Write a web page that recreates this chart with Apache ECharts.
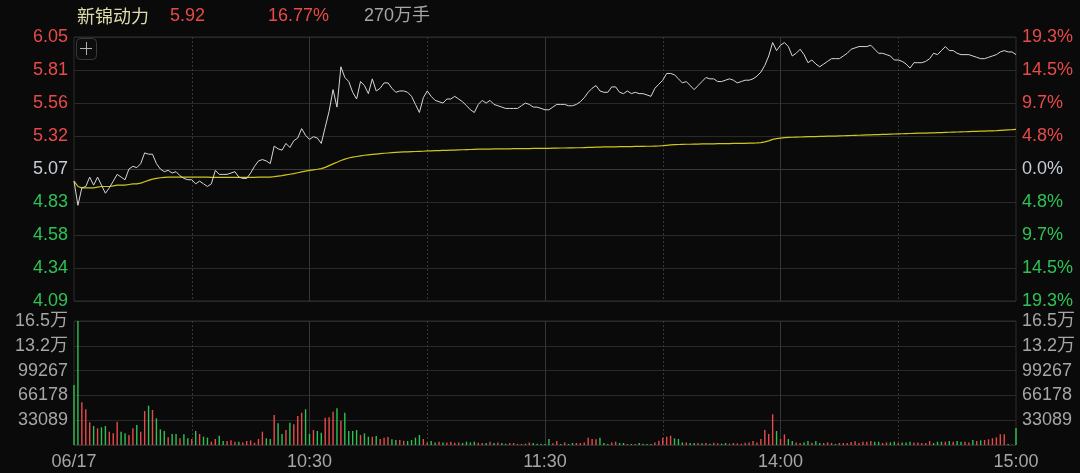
<!DOCTYPE html>
<html>
<head>
<meta charset="utf-8">
<script src="https://cdn.jsdelivr.net/npm/echarts@6/dist/echarts.min.js"></script>
<style>
html,body{margin:0;padding:0;background:#0a0a0a;}
#c{width:1080px;height:473px;}
</style>
</head>
<body>
<div id="c"></div>
<script>
// ---------------- DATA ----------------
var stockName = '新锦动力';
var lastPrice = '5.92';
var changePct = '16.77%';
var totalVolText = '270万手';
var preClose = 5.07;
var priceMin = 4.089;
var priceMax = 6.051;
var priceStep = 0.24525;
var priceTicks = ['4.09','4.34','4.58','4.83','5.07','5.32','5.56','5.81','6.05'];
var pctTicks = ['19.3%','14.5%','9.7%','4.8%','0.0%','4.8%','9.7%','14.5%','19.3%'];
var volMax = 165445;
var volStep = 33089;
var volTicks = ['', '33089', '66178', '99267', '13.2万', '16.5万'];
var xTickTimes = ['09:30','10:30','11:30','14:00','15:00'];
var xTickLabels = ['06/17','10:30','11:30','14:00','15:00'];
var solidTimes = ['10:30','11:30','14:00'];
var dashedTimes = ['10:00','11:00','13:30','14:30'];

var price = [
4.98,4.80,4.93,4.94,5.01,4.95,5.01,4.95,4.89,4.93,
4.98,5.03,5.01,4.99,5.07,5.09,5.08,5.11,5.19,5.18,
5.18,5.11,5.07,5.05,5.06,5.04,5.05,5.02,5.00,4.99,
4.99,4.96,4.98,4.96,4.94,4.96,5.06,5.03,5.03,5.03,
5.04,5.05,5.01,5.00,5.00,5.04,5.09,5.13,5.14,5.13,
5.11,5.24,5.22,5.21,5.26,5.23,5.28,5.30,5.37,5.32,
5.29,5.31,5.30,5.26,5.38,5.50,5.66,5.53,5.83,5.75,
5.72,5.64,5.59,5.72,5.69,5.63,5.74,5.65,5.67,5.71,
5.71,5.67,5.64,5.65,5.65,5.64,5.61,5.55,5.49,5.60,
5.65,5.61,5.58,5.57,5.56,5.59,5.59,5.61,5.59,5.57,
5.54,5.51,5.49,5.55,5.58,5.56,5.58,5.55,5.54,5.53,
5.52,5.52,5.52,5.52,5.54,5.56,5.55,5.53,5.53,5.52,
5.51,5.51,5.53,5.55,5.55,5.55,5.54,5.54,5.55,5.57,
5.60,5.64,5.67,5.69,5.65,5.64,5.64,5.68,5.68,5.64,
5.63,5.65,5.63,5.64,5.63,5.63,5.62,5.61,5.67,5.70,
5.73,5.78,5.78,5.77,5.74,5.71,5.72,5.69,5.66,5.69,
5.72,5.75,5.74,5.74,5.72,5.72,5.73,5.74,5.73,5.71,
5.72,5.73,5.73,5.74,5.76,5.79,5.84,5.91,6.01,5.95,
5.99,6.01,5.98,5.91,5.93,5.96,5.92,5.86,5.88,5.85,
5.83,5.85,5.87,5.89,5.89,5.89,5.91,5.93,5.96,5.97,
5.98,5.98,5.98,5.99,5.96,5.93,5.93,5.92,5.91,5.88,
5.88,5.87,5.85,5.82,5.86,5.86,5.86,5.87,5.89,5.93,
5.92,5.95,5.98,5.95,5.95,5.93,5.92,5.92,5.92,5.91,
5.90,5.89,5.89,5.90,5.91,5.92,5.94,5.95,5.94,5.94,
5.92
];

var avgPrice = [
4.98,4.94,4.93,4.93,4.93,4.93,4.935,4.94,4.94,4.94,
4.945,4.95,4.95,4.95,4.955,4.96,4.96,4.965,4.975,4.985,
4.995,5.00,5.005,5.008,5.01,5.01,5.01,5.01,5.01,5.01,
5.01,5.01,5.01,5.01,5.01,5.008,5.008,5.008,5.008,5.008,
5.008,5.008,5.008,5.008,5.008,5.008,5.008,5.009,5.01,5.01,
5.01,5.013,5.017,5.021,5.026,5.031,5.036,5.042,5.048,5.054,
5.06,5.064,5.068,5.073,5.082,5.095,5.108,5.12,5.133,5.143,
5.152,5.158,5.163,5.168,5.172,5.175,5.178,5.181,5.184,5.187,
5.189,5.191,5.193,5.195,5.197,5.198,5.199,5.2,5.201,5.202,
5.204,5.205,5.206,5.207,5.208,5.209,5.21,5.211,5.212,5.213,
5.214,5.215,5.216,5.217,5.217,5.218,5.218,5.219,5.219,5.22,
5.22,5.22,5.221,5.221,5.222,5.222,5.222,5.223,5.223,5.223,
5.224,5.224,5.225,5.225,5.226,5.226,5.227,5.227,5.228,5.228,
5.229,5.23,5.231,5.232,5.233,5.234,5.234,5.235,5.235,5.236,
5.236,5.237,5.237,5.238,5.238,5.238,5.239,5.239,5.24,5.241,
5.243,5.246,5.249,5.251,5.252,5.253,5.254,5.254,5.255,5.255,
5.256,5.256,5.257,5.257,5.258,5.258,5.259,5.259,5.26,5.26,
5.261,5.261,5.262,5.263,5.264,5.266,5.272,5.279,5.29,5.296,
5.3,5.303,5.305,5.306,5.307,5.308,5.309,5.31,5.311,5.311,
5.312,5.313,5.314,5.315,5.315,5.316,5.317,5.318,5.319,5.32,
5.321,5.322,5.323,5.324,5.325,5.326,5.327,5.328,5.329,5.33,
5.331,5.332,5.333,5.334,5.335,5.336,5.336,5.337,5.338,5.339,
5.34,5.341,5.342,5.343,5.344,5.345,5.346,5.347,5.348,5.349,
5.35,5.351,5.352,5.353,5.354,5.355,5.357,5.359,5.361,5.362,
5.364
];

var volume = [
80000,165445,57000,47600,30300,25300,22200,23600,25300,17800,
15600,31100,17800,15600,13300,22200,26700,17800,45400,52400,
46700,35600,20900,18700,10200,14700,14700,8900,14200,8900,
8000,18700,14700,11100,9800,4400,8000,12400,5300,5300,
6200,4400,4400,3500,5300,6200,3100,8000,17800,8900,
8000,40000,28900,14700,20000,29800,27800,38700,43100,47600,
14700,20000,18700,16400,36400,36900,44500,48900,32500,43100,
18700,18700,20000,13300,15600,11100,11100,12000,8000,9800,
10700,7600,6700,6700,5800,5300,6700,9800,13300,8000,
3500,5300,3500,4400,3500,3500,4400,3100,3500,2700,
4400,3500,4400,3100,2700,2700,4400,2700,3500,2700,
1800,2700,2700,1300,1300,1800,3500,2700,1800,1800,
1300,8000,2200,5300,1300,3500,1300,2700,2700,2700,
3500,9800,8000,7600,9800,2700,1300,3500,4400,2700,
2700,1300,1300,1300,2700,1800,1300,1300,3500,5800,
9800,11100,12400,8900,8000,3500,3500,2700,2700,2700,
2200,2700,1800,3100,2200,1800,2700,1800,2700,2200,
1800,3100,3500,5300,3500,8000,20000,14700,41000,18700,
8000,14200,8000,5300,3500,2700,3500,5300,3100,5300,
2700,2700,3500,2700,1300,2700,2700,2700,4000,4900,
2700,4400,4400,5300,4400,4400,2700,3500,3500,4400,
2700,3500,3500,4400,3500,3500,2700,2700,5300,2700,
4400,4400,4400,5300,4400,5300,4400,4400,3500,6700,
5300,6200,6700,7600,8900,10200,14200,14200,1300,500,
22700
];

// 1 = up (red), -1 = down (green)
var volDir = [
-1,-1,1,1,1,-1,1,-1,-1,1,
1,1,-1,-1,1,1,-1,1,1,-1,
1,-1,-1,-1,1,-1,-1,1,-1,-1,
1,-1,1,-1,-1,1,1,-1,-1,1,
1,1,-1,1,1,1,1,1,1,-1,
-1,1,-1,-1,1,-1,1,1,1,-1,
-1,1,-1,-1,1,1,1,-1,1,-1,
-1,-1,-1,1,-1,-1,1,-1,1,1,
1,-1,-1,1,1,-1,-1,-1,-1,1,
1,-1,-1,1,-1,1,1,1,1,-1,
-1,-1,-1,1,1,-1,1,-1,1,-1,
-1,1,1,1,1,1,1,-1,-1,-1,
-1,-1,1,1,-1,1,-1,-1,1,1,
1,1,1,1,-1,-1,-1,1,1,-1,
-1,1,-1,1,-1,-1,-1,-1,1,1,
1,1,1,-1,-1,-1,1,-1,-1,1,
-1,1,-1,1,1,-1,-1,1,1,1,
1,1,1,1,1,1,1,1,1,-1,
1,1,-1,-1,1,1,-1,-1,1,-1,
-1,1,1,1,-1,1,1,1,1,1,
1,1,1,1,-1,-1,1,1,-1,-1,
1,-1,-1,-1,1,1,1,1,1,-1,
-1,-1,1,-1,1,-1,-1,1,1,-1,
1,-1,1,1,1,1,1,1,-1,-1,
-1
];

// ---------------- CATEGORIES ----------------
function pad(n){return (n<10?'0':'')+n;}
var times = [];
for (var m = 0; m <= 120; m++) { var t = 9*60+30+m; times.push(pad(Math.floor(t/60))+':'+pad(t%60)); }
for (var m2 = 1; m2 <= 120; m2++) { var t2 = 13*60+m2; times.push(pad(Math.floor(t2/60))+':'+pad(t2%60)); }

var RED = '#e84a4a', GREEN = '#2ec255', NEUTRAL = '#c4ccd6', GRAY = '#a6a6a6';
var GRID_H = '#292929', GRID_V = '#363636', GRID_MID = '#3a3a3a';
var FONT = '"Liberation Sans", Arial, "Noto Sans CJK SC", sans-serif';

function priceIdx(v){ return Math.round((v - priceMin)/priceStep); }
function volIdx(v){ return Math.round(v/volStep); }

var hColors = [];
for (var k = 0; k < priceTicks.length; k++) hColors.push(k === 4 ? GRID_MID : GRID_H);

function xAxisCfg(gridIndex, showLabel, lineTimes, dashed){
  return {
    type: 'category', gridIndex: gridIndex, data: times, boundaryGap: false,
    axisLine: {show: false}, axisTick: {show: false},
    axisLabel: showLabel ? {
      show: true, color: GRAY, fontSize: 18, fontFamily: FONT, margin: 8,
      interval: function(i, v){ return xTickTimes.indexOf(v) >= 0; },
      formatter: function(v){ var j = xTickTimes.indexOf(v); return j >= 0 ? xTickLabels[j] : ''; }
    } : {show: false},
    splitLine: {
      show: true,
      interval: function(i, v){ return lineTimes.indexOf(v) >= 0; },
      lineStyle: {color: GRID_V, width: 1, type: dashed ? [2, 2] : 'solid'}
    }
  };
}

var chart = echarts.init(document.getElementById('c'), null, {renderer: 'canvas'});
chart.setOption({
  backgroundColor: '#0a0a0a',
  animation: false,
  grid: [
    {left: 74, right: 64, top: 37, height: 264, show: true, borderColor: '#2c2c2c', borderWidth: 1, backgroundColor: 'transparent'},
    {left: 74, right: 64, top: 321, height: 124, show: true, borderColor: '#2c2c2c', borderWidth: 1, backgroundColor: 'transparent'}
  ],
  graphic: [
    {type: 'text', left: 77, top: 7, style: {text: stockName, fill: '#dcdcaa', font: '18px "Noto Sans CJK SC", sans-serif'}},
    {type: 'text', left: 170, top: 7, style: {text: lastPrice, fill: RED, font: '18px ' + FONT}},
    {type: 'text', left: 268, top: 7, style: {text: changePct, fill: RED, font: '18px ' + FONT}},
    {type: 'text', left: 364, top: 7, style: {text: totalVolText, fill: GRAY, font: '18px ' + FONT}},
    {type: 'rect', left: 76, top: 38, shape: {width: 20, height: 21, r: 4}, style: {fill: '#0d0d0d', stroke: '#3a3a3a', lineWidth: 1}, z: 100},
    {type: 'line', shape: {x1: 80, y1: 48.5, x2: 92, y2: 48.5}, style: {stroke: '#b0b0b0', lineWidth: 1}, z: 101},
    {type: 'line', shape: {x1: 86.5, y1: 42, x2: 86.5, y2: 55}, style: {stroke: '#b0b0b0', lineWidth: 1}, z: 101}
  ],
  xAxis: [
    xAxisCfg(0, false, solidTimes, false),
    xAxisCfg(0, false, dashedTimes, true),
    xAxisCfg(1, true, solidTimes, false),
    xAxisCfg(1, false, dashedTimes, true)
  ],
  yAxis: [
    {
      type: 'value', gridIndex: 0, position: 'left', min: priceMin, max: priceMax, interval: priceStep,
      axisLine: {show: false}, axisTick: {show: false},
      axisLabel: {
        fontSize: 18, fontFamily: FONT, margin: 6,
        formatter: function(v){ return priceTicks[priceIdx(v)]; },
        color: function(v){ var j = priceIdx(v); return j > 4 ? RED : (j < 4 ? GREEN : NEUTRAL); }
      },
      splitLine: {show: true, lineStyle: {color: hColors, width: 1}}
    },
    {
      type: 'value', gridIndex: 0, position: 'right', min: priceMin, max: priceMax, interval: priceStep,
      axisLine: {show: false}, axisTick: {show: false},
      axisLabel: {
        fontSize: 18, fontFamily: FONT, margin: 6,
        formatter: function(v){ return pctTicks[priceIdx(v)]; },
        color: function(v){ var j = priceIdx(v); return j > 4 ? RED : (j < 4 ? GREEN : NEUTRAL); }
      },
      splitLine: {show: false}
    },
    {
      type: 'value', gridIndex: 1, position: 'left', min: 0, max: volMax, interval: volStep,
      axisLine: {show: false}, axisTick: {show: false},
      axisLabel: {fontSize: 18, fontFamily: FONT, margin: 6, color: GRAY,
        formatter: function(v){ return volTicks[volIdx(v)]; }},
      splitLine: {show: true, lineStyle: {color: GRID_H, width: 1}}
    },
    {
      type: 'value', gridIndex: 1, position: 'right', min: 0, max: volMax, interval: volStep,
      axisLine: {show: false}, axisTick: {show: false},
      axisLabel: {fontSize: 18, fontFamily: FONT, margin: 6, color: GRAY,
        formatter: function(v){ return volTicks[volIdx(v)]; }},
      splitLine: {show: false}
    }
  ],
  series: [
    {
      name: 'avg', type: 'line', xAxisIndex: 0, yAxisIndex: 0, data: avgPrice,
      showSymbol: false, symbol: 'none', smooth: false,
      lineStyle: {color: '#cfc51c', width: 1.2}, z: 3
    },
    {
      name: 'price', type: 'line', xAxisIndex: 0, yAxisIndex: 0, data: price,
      showSymbol: false, symbol: 'none', smooth: false,
      lineStyle: {color: '#d6d6d6', width: 1}, z: 4
    },
    {
      name: 'vol', type: 'bar', xAxisIndex: 2, yAxisIndex: 2, barWidth: 1.4,
      data: volume.map(function(v, i){ return {value: v, itemStyle: {color: volDir[i] > 0 ? RED : GREEN}}; }),
      z: 3
    }
  ]
});
</script>
</body>
</html>
